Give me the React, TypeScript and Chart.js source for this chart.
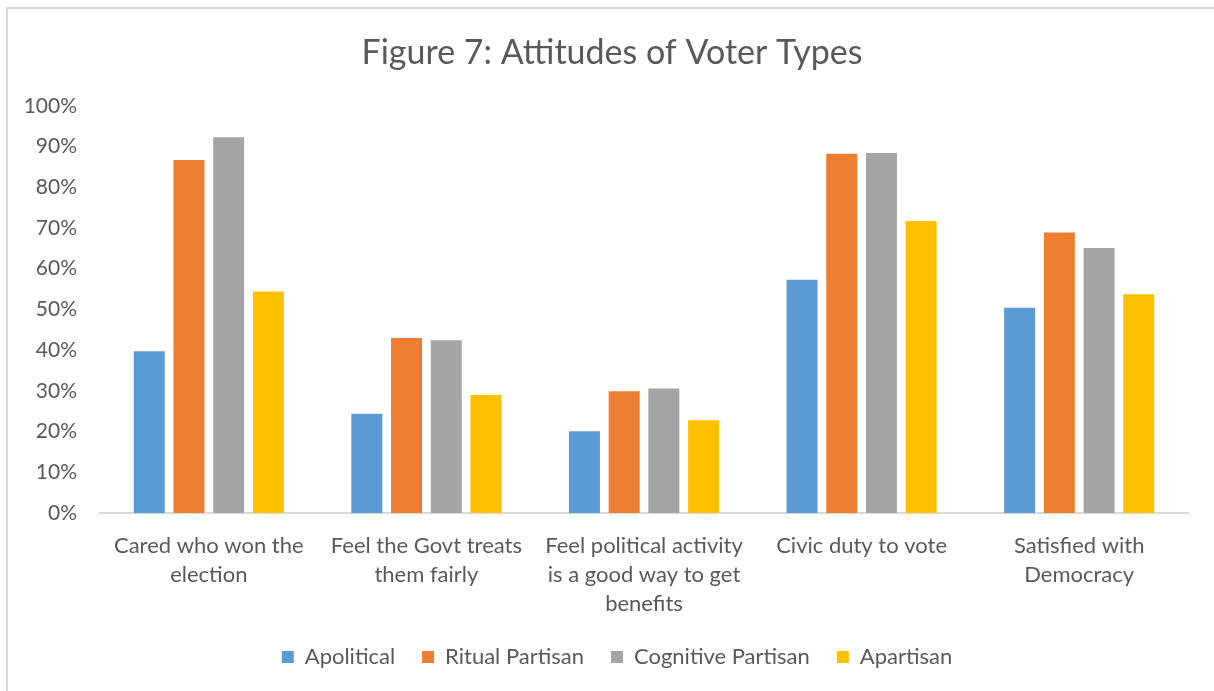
import React, { useEffect, useRef } from "react";
import { Chart, registerables } from "chart.js";

Chart.register(...registerables);

const categories: string[][] = [
  ["Cared who won the", "election"],
  ["Feel the Govt treats", "them fairly"],
  ["Feel political activity", "is a good way to get", "benefits"],
  ["Civic duty to vote"],
  ["Satisfied with", "Democracy"],
];

const seriesNames = ["Apolitical", "Ritual Partisan", "Cognitive Partisan", "Apartisan"];
const seriesColors = ["#5B9BD5", "#ED7D31", "#A5A5A5", "#FFC000"];

const apolitical = [39.7, 24.4, 20.1, 57.3, 50.4];
const ritualPartisan = [86.7, 43.0, 29.9, 88.2, 68.9];
const cognitivePartisan = [92.3, 42.4, 30.6, 88.4, 65.1];
const apartisan = [54.4, 29.0, 22.8, 71.7, 53.7];

const yTicks = [0, 10, 20, 30, 40, 50, 60, 70, 80, 90, 100];

const TEXT = "#595959";
const FONT = "Lato";

// The title and legend are centred on the whole chart frame, which starts a
// little further left than the value axis box; shift their boxes to match.
const centreBlocks = {
  id: "centreBlocks",
  afterLayout(chart: any) {
    if (chart.titleBlock) chart.titleBlock.left = 28;
    if (chart.legend) chart.legend.left = 38;
  },
};

export default function App() {
  const ref = useRef<HTMLCanvasElement | null>(null);

  useEffect(() => {
    if (!ref.current) return;
    const values = [apolitical, ritualPartisan, cognitivePartisan, apartisan];
    const chart = new Chart(ref.current, {
      type: "bar",
      data: {
        labels: categories,
        datasets: seriesNames.map((name, i) => ({
          label: name,
          data: values[i],
          backgroundColor: seriesColors[i],
          borderWidth: 0,
          categoryPercentage: 0.73,
          barPercentage: 0.78,
        })),
      },
      plugins: [centreBlocks],
      options: {
        animation: false,
        responsive: false,
        devicePixelRatio: 1,
        layout: { padding: { left: 0, right: 40, top: 0, bottom: 21 } },
        plugins: {
          tooltip: { enabled: false },
          title: {
            display: true,
            text: "Figure 7: Attitudes of Voter Types",
            color: TEXT,
            font: { family: FONT, size: 34, weight: "normal", lineHeight: 1.2 },
            padding: { top: 24, bottom: 32 },
          },
          legend: {
            position: "bottom",
            labels: {
              color: TEXT,
              font: { family: FONT, size: 22 },
              boxWidth: 12,
              boxHeight: 12,
              padding: 27,
            },
          },
        },
        scales: {
          x: {
            grid: { display: false, drawTicks: false },
            border: { display: true, color: "#D9D9D9", width: 2 },
            ticks: {
              color: TEXT,
              font: { family: FONT, size: 22, lineHeight: 29 / 22 },
              padding: 18,
              maxRotation: 0,
              autoSkip: false,
            },
            afterFit: (scale: any) => {
              scale.height = 106;
            },
          },
          y: {
            min: 0,
            max: 100,
            grid: { display: false, drawTicks: false },
            border: { display: false },
            afterBuildTicks: (scale: any) => {
              scale.ticks = yTicks.map((v) => ({ value: v }));
            },
            ticks: {
              color: TEXT,
              font: { family: FONT, size: 21 },
              padding: 23,
              callback: (v: any) => `${v}%`,
            },
            afterFit: (scale: any) => {
              scale.width = 92;
            },
          },
        },
      },
    });
    return () => chart.destroy();
  }, []);

  return (
    <div
      style={{
        position: "fixed",
        left: 0,
        top: 0,
        width: 1214,
        height: 691,
        overflow: "hidden",
        background: "#FFFFFF",
      }}
    >
      <div
        style={{
          position: "absolute",
          left: 6,
          top: 7,
          width: 1240,
          height: 700,
          borderLeft: "2px solid #D9D9D9",
          borderTop: "2px solid #D9D9D9",
        }}
      >
        <canvas ref={ref} width={1220} height={690} style={{ display: "block" }} />
      </div>
    </div>
  );
}
